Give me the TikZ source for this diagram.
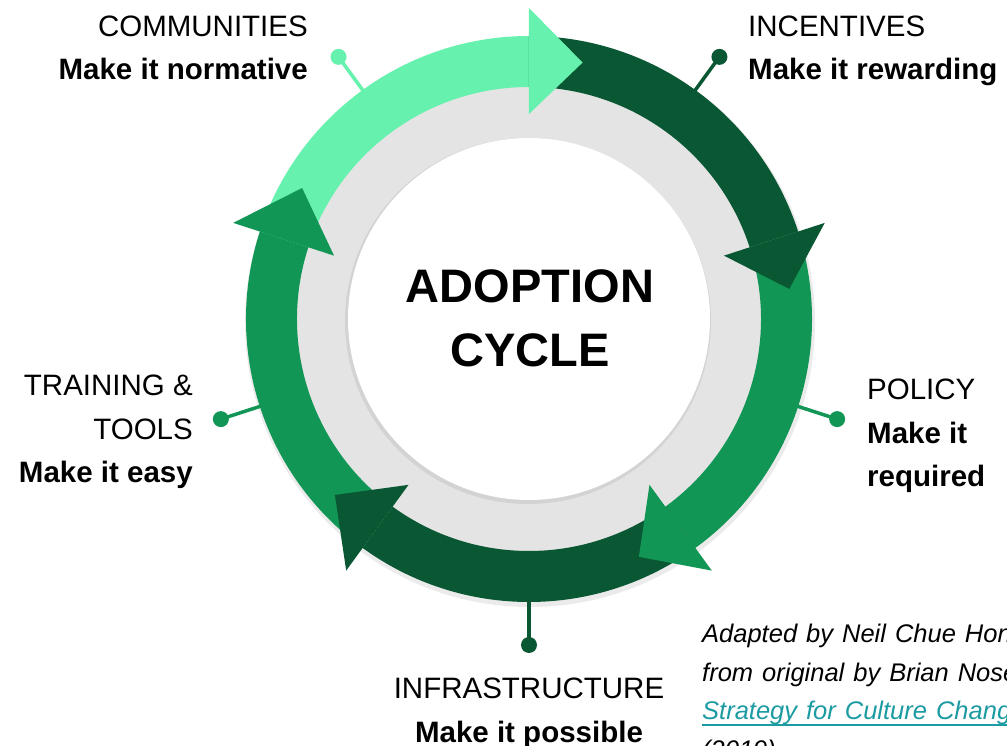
\documentclass[tikz,border=0pt]{standalone}
\usepackage{fontspec}
\setmainfont{Liberation Sans}
\newcommand{\thickul}[1]{\setbox0\hbox{#1}\rlap{\rule[-6pt]{\wd0}{2pt}}\box0}
\definecolor{lightgreen}{HTML}{66F2AE}
\definecolor{darkgreen}{HTML}{0A5733}
\definecolor{midgreen}{HTML}{119655}
\definecolor{ringgrey}{HTML}{E4E4E4}
\definecolor{linkteal}{HTML}{1C9BA3}
\tikzset{
  tagtext/.style={inner sep=0, font=\fontsize{29.5}{43.7}\selectfont},
  pindot/.style={circle, inner sep=0, minimum size=16pt},
  pinline/.style={line width=3.5pt}
}
\begin{document}
\begin{tikzpicture}[x=1pt,y=1pt]
\clip (-529,-427) rectangle (478,319);
\fill[white] (-529,-427) rectangle (478,319);

% ring and centre
\fill[black, opacity=.08] (1,-3) circle (285);
\fill[ringgrey] (0,0) circle (233);
\fill[black, opacity=.07] (-1,-2) circle (183);
\fill[white] (0,0) circle (181);

% pins
\coordinate (pcom) at (126:280);
\node[pindot, fill=lightgreen] (dcom) at (126:324){};
\draw[pinline, lightgreen](pcom) -- (dcom.center);

\coordinate (pinc) at (54:280);
\node[pindot, fill=darkgreen] (dinc) at (54:324){};
\draw[pinline, darkgreen](pinc) -- (dinc.center);

\coordinate (ppol) at (-18:280);
\node[pindot, fill=midgreen] (dpol) at (-18:324){};
\draw[pinline, midgreen](ppol) -- (dpol.center);

\coordinate (pinf) at (-90:280);
\node[pindot, fill=darkgreen] (dinf) at (-90:326){};
\draw[pinline, darkgreen](pinf) -- (dinf.center);

\coordinate (ptra) at (198:280);
\node[pindot, fill=midgreen] (dtra) at (198:324){};
\draw[pinline, midgreen](ptra) -- (dtra.center);

% arrow bodies
\fill[lightgreen] (162:283) arc[start angle=162, end angle=90, radius=283] -- (90:232) arc[start angle=90, end angle=162, radius=232] -- cycle;
\fill[darkgreen] (90:283) arc[start angle=90, end angle=18, radius=283] -- (18:232) arc[start angle=18, end angle=90, radius=232] -- cycle;
\fill[midgreen] (18:283) arc[start angle=18, end angle=-54, radius=283] -- (-54:232) arc[start angle=-54, end angle=18, radius=232] -- cycle;
\fill[darkgreen] (-54:283) arc[start angle=-54, end angle=-126, radius=283] -- (-126:232) arc[start angle=-126, end angle=-54, radius=232] -- cycle;
\fill[midgreen] (-126:283) arc[start angle=-126, end angle=-198, radius=283] -- (-198:232) arc[start angle=-198, end angle=-126, radius=232] -- cycle;

% arrow heads
\fill[lightgreen] (90:205) -- (90:311) -- (78.2:262) -- cycle;
\fill[darkgreen] (18:205) -- (18:311) -- (6.6:262) -- cycle;
\fill[midgreen] (-54:205) -- (-54:311) -- (-65.2:262) -- cycle;
\fill[darkgreen] (-126:205) -- (-126:311) -- (-137.8:262) -- cycle;
\fill[midgreen] (162:205) -- (162:311) -- (150:262) -- cycle;

% title
\node[inner sep=0, align=center, font=\bfseries\fontsize{47}{64}\selectfont, anchor=base] (title) at (1,-48) {ADOPTION\\CYCLE};

% labels
\node[tagtext, anchor=base east, align=right] (lcom) at (-221,239) {COMMUNITIES\\\textbf{Make it normative}};
\node[tagtext, anchor=base west, align=left] (linc) at (219,239) {INCENTIVES\\\textbf{Make it rewarding}};
\node[tagtext, anchor=base west, align=left] (lpol) at (338,-168) {POLICY\\\textbf{Make it}\\\textbf{required}};
\node[tagtext, anchor=base, align=center] (linf) at (0,-423) {INFRASTRUCTURE\\\textbf{Make it possible}};
\node[tagtext, anchor=base east, align=right] (ltra) at (-336,-164) {TRAINING \&\\TOOLS\\\textbf{Make it easy}};

% credit
\node[inner sep=0, anchor=base west, align=left, font=\itshape\fontsize{25.5}{38.5}\selectfont] (credit) at (173,-439) {\spaceskip=9pt Adapted by Neil Chue Hong\\\spaceskip=9pt from original by Brian Nosek\\\spaceskip=9pt {\color{linkteal}\thickul{Strategy for Culture Change}}\\(2019)};

\end{tikzpicture}
\end{document}
